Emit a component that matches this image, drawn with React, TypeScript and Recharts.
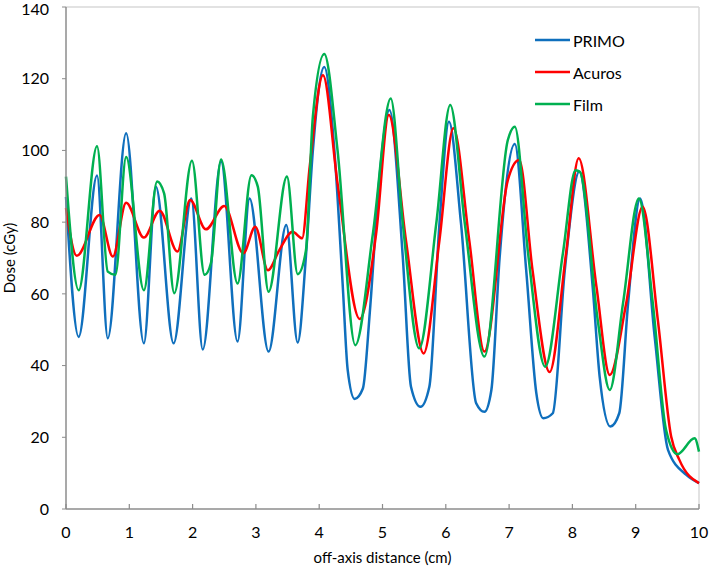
import React from "react";
import { LineChart, Line, XAxis, YAxis, ReferenceLine } from "recharts";

// off-axis distance (cm) / dose (cGy)
const primoX = [0, 0.2, 0.49, 0.66, 0.95, 1.23, 1.42, 1.7, 1.98, 2.16, 2.45, 2.71, 2.9, 3.2, 3.48, 3.66, 3.79, 3.9, 4.08, 4.24, 4.37, 4.45, 4.56, 4.69, 4.8, 4.95, 5.11, 5.32, 5.45, 5.6, 5.74, 5.9, 6.05, 6.24, 6.48, 6.61, 6.72, 6.85, 7.09, 7.27, 7.43, 7.54, 7.69, 7.88, 8.11, 8.32, 8.43, 8.6, 8.74, 8.88, 9.07, 9.3, 9.51, 9.8, 10];
const primoDose = [87, 48, 93, 47.6, 104.8, 46.2, 89.9, 46.2, 86.6, 44.5, 96.9, 46.7, 86.6, 43.9, 79.2, 46.4, 70.4, 100, 123.3, 100, 62.9, 38.8, 30.7, 33.6, 55, 92, 111.3, 70.4, 34.1, 28.5, 34.1, 79.7, 108, 79.7, 29.5, 27.1, 33.2, 70, 101.8, 66.6, 32.3, 25.3, 26.7, 66.6, 94.1, 62, 37, 23, 26.7, 57.4, 86.6, 48, 16.5, 9.5, 7.2];

const acurosX = [0, 0.17, 0.53, 0.74, 0.95, 1.23, 1.48, 1.76, 1.96, 2.21, 2.5, 2.8, 2.99, 3.19, 3.37, 3.58, 3.73, 3.85, 4.06, 4.29, 4.64, 4.9, 5.1, 5.37, 5.65, 5.9, 6.12, 6.37, 6.61, 6.98, 7.16, 7.37, 7.64, 7.9, 8.1, 8.38, 8.59, 8.85, 9.11, 9.35, 9.56, 9.69, 10];
const acurosDose = [83.9, 70.6, 82, 70.4, 85.4, 75.7, 83.2, 71.8, 86.2, 78, 84.5, 71.3, 78.7, 66.6, 72.2, 77.3, 75.5, 95.5, 121, 90.8, 53, 76.9, 109.9, 75, 43.4, 75, 106.2, 75, 43.9, 91.7, 97.3, 66.6, 38.2, 71.3, 97.8, 62, 37.4, 57.4, 84.3, 52.7, 20.2, 13.7, 7.2];

const filmX = [0, 0.2, 0.49, 0.66, 0.78, 0.95, 1.23, 1.44, 1.55, 1.71, 1.99, 2.19, 2.29, 2.45, 2.71, 2.93, 3.03, 3.2, 3.49, 3.66, 3.79, 3.9, 4.08, 4.29, 4.57, 4.85, 5.13, 5.32, 5.58, 5.85, 6.07, 6.3, 6.61, 6.98, 7.09, 7.3, 7.57, 7.85, 8.05, 8.12, 8.4, 8.59, 8.8, 9.05, 9.27, 9.48, 9.66, 9.93, 10];
const filmDose = [92.7, 61, 101.2, 66.2, 65.3, 98.2, 61, 91.3, 88, 60.2, 97.1, 65.3, 68.6, 97.5, 62.9, 93.1, 89.9, 60.6, 92.7, 65.5, 72, 109.4, 126.9, 100, 45.7, 77, 114.5, 79.7, 44.8, 79.7, 112.7, 79.7, 42.5, 102.9, 106.6, 71.3, 39.7, 71.3, 94.5, 94, 52.7, 33.2, 57.4, 86.6, 57.4, 22, 15.3, 19.7, 16];

const xTicks = [0, 1, 2, 3, 4, 5, 6, 7, 8, 9, 10];
const yTicks = [0, 20, 40, 60, 80, 100, 120, 140];

const seriesNames = ["PRIMO", "Acuros", "Film"];
const seriesColors = ["#0f6fbd", "#ff0000", "#00b050"];

const toPoints = (xs: number[], ys: number[]) => xs.map((x, i) => ({ x, dose: ys[i] }));

const series = [
  toPoints(primoX, primoDose),
  toPoints(acurosX, acurosDose),
  toPoints(filmX, filmDose),
];

const axisGray = "#8c8c8c";

const XTick = (props: any) => {
  const { x, y, payload } = props;
  return (
    <g>
      <line x1={x} x2={x} y1={y} y2={y - 5} stroke={axisGray} strokeWidth={1.2} />
      <text x={x} y={y + 29} textAnchor="middle" fontSize={16} fill="#000">
        {payload.value}
      </text>
    </g>
  );
};

const LegendBox = () => (
  <div style={{ position: "absolute", left: 535, top: 24, fontFamily: "Lato", fontSize: 16, color: "#000" }}>
    {seriesNames.map((name, i) => (
      <div key={name} style={{ display: "flex", alignItems: "center", height: 32 }}>
        <svg width={38} height={6} style={{ display: "block" }}>
          <line x1={0} x2={35} y1={3} y2={3} stroke={seriesColors[i]} strokeWidth={2.5} />
        </svg>
        <span>{name}</span>
      </div>
    ))}
  </div>
);

export default function App() {
  return (
    <div style={{ position: "absolute", left: 0, top: 0, width: 709, height: 568, background: "#fff", fontFamily: "Lato" }}>
      <LineChart width={709} height={568} margin={{ top: 7, right: 10, left: 0, bottom: 0 }}>
        <XAxis
          type="number"
          dataKey="x"
          domain={[0, 10]}
          ticks={xTicks}
          allowDuplicatedCategory={false}
          height={59}
          tickSize={0}
          tickMargin={0}
          tickLine={false}
          tick={<XTick />}
          axisLine={{ stroke: axisGray, strokeWidth: 1.5 }}
          label={{ value: "off-axis distance (cm)", position: "insideBottom", offset: 5, fill: "#000", fontSize: 15 }}
        />
        <YAxis
          type="number"
          dataKey="dose"
          domain={[0, 140]}
          ticks={yTicks}
          width={66}
          tickSize={4}
          tickMargin={13}
          tick={{ fill: "#000", fontSize: 16 }}
          tickLine={{ stroke: axisGray }}
          axisLine={{ stroke: axisGray, strokeWidth: 1.5 }}
          label={{ value: "Dose (cGy)", angle: -90, position: "insideLeft", offset: 10, fill: "#000", fontSize: 15, style: { textAnchor: "middle" } }}
        />
        <ReferenceLine y={140} stroke="#d9d9d9" strokeWidth={1.5} />
        <ReferenceLine x={10} stroke="#d9d9d9" strokeWidth={1.5} />
        {series.map((pts, i) => (
          <Line
            key={seriesNames[i]}
            data={pts}
            dataKey="dose"
            name={seriesNames[i]}
            type="monotone"
            stroke={seriesColors[i]}
            strokeWidth={2.5}
            dot={false}
            activeDot={false}
            isAnimationActive={false}
          />
        ))}
      </LineChart>
      <LegendBox />
    </div>
  );
}
